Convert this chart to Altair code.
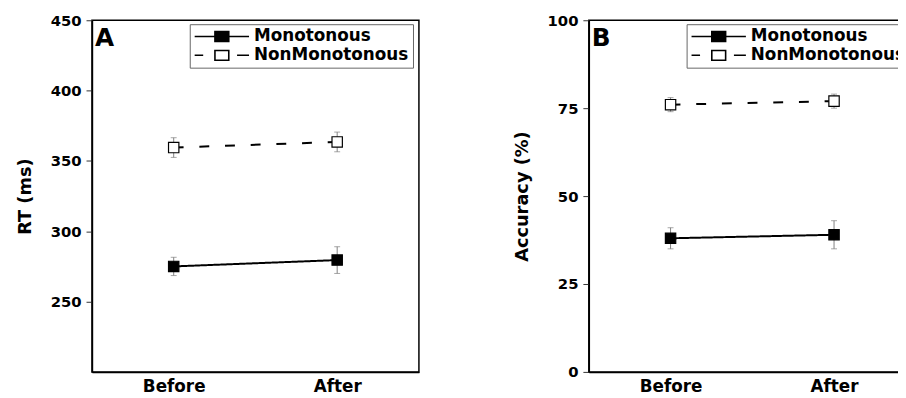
import altair as alt
import pandas as pd

conditions = ["Before", "After"]
series = ["Monotonous", "NonMonotonous"]
dash_kind = ["solid", "dashed"]
fill_colors = ["black", "white"]

rt_mono = [275, 279.5]
rt_mono_err = [6.5, 9.5]
rt_non = [359.5, 363.5]
rt_non_err = [7, 7]

acc_mono = [38, 39]
acc_mono_err = [3, 4]
acc_non = [76, 77]
acc_non_err = [2, 2]

FONT = "DejaVu Sans"

# legend glyphs (symbol scale: 1 unit = 7 px), line with square
PATH_MONO = "M-3.93,0H3.93M-1,-0.71H1V0.71H-1Z"
PATH_NON = "M-3.93,0H-2.7M2.2,0H3.93M-1,-0.71H1V0.71H-1Z"


def make_df(mono, mono_err, non, non_err):
    rows = []
    for i, (vals, errs) in enumerate([(mono, mono_err), (non, non_err)]):
        for c, v, e in zip(conditions, vals, errs):
            rows.append({"cond": c, "series": series[i], "dash": dash_kind[i],
                         "fillc": fill_colors[i], "val": v,
                         "lo": v - e, "hi": v + e})
    return pd.DataFrame(rows)


def panel(df, domain, ticks, ytitle, letter):
    x = alt.X("cond:N", sort=conditions, title=None,
              scale=alt.Scale(type="point", padding=0.5),
              axis=alt.Axis(ticks=False, labelAngle=0, labelPadding=7,
                            labelFontSize=17, labelFont=FONT,
                            labelFontWeight="bold", labelColor="black",
                            domainColor="black", domainWidth=1.5))
    y = alt.Y("val:Q", title=ytitle,
              scale=alt.Scale(domain=domain, nice=False, zero=False),
              axis=alt.Axis(values=ticks, grid=False, tickSize=6,
                            tickColor="#333333", tickWidth=1,
                            labelFontSize=15, labelFont=FONT,
                            labelFontWeight="bold", labelColor="black",
                            labelPadding=5, domainColor="black",
                            domainWidth=1.5, titleFont=FONT,
                            titleFontSize=18, titleFontWeight="bold",
                            titleColor="black", titlePadding=16))
    base = alt.Chart(df)
    err = base.mark_rule(color="#808080", strokeWidth=1).encode(
        x=x, y=alt.Y("lo:Q"), y2="hi:Q")
    cap_lo = base.mark_tick(color="#808080", thickness=1, size=6).encode(
        x=x, y=alt.Y("lo:Q"))
    cap_hi = base.mark_tick(color="#808080", thickness=1, size=6).encode(
        x=x, y=alt.Y("hi:Q"))
    line = base.mark_line(color="black", strokeWidth=2).encode(
        x=x, y=y,
        strokeDash=alt.StrokeDash("dash:N",
                                  scale=alt.Scale(domain=dash_kind,
                                                  range=[[1, 0], [10, 16]]),
                                  legend=None),
        detail="series:N")
    pts = base.mark_point(shape="square", size=110, filled=True,
                          stroke="black", strokeWidth=1.2, opacity=1).encode(
        x=x, y=y, fill=alt.Fill("fillc:N", scale=None))
    leg = base.mark_point(filled=True, opacity=0).encode(
        x=x, y=y,
        fill=alt.Fill("series:N",
                      scale=alt.Scale(domain=series, range=fill_colors),
                      legend=alt.Legend(title=None, orient="none",
                                        legendX=99, legendY=4,
                                        strokeColor="#666666", padding=4,
                                        fillColor="white",
                                        labelFont=FONT, labelFontSize=17,
                                        labelFontWeight="bold",
                                        labelColor="black",
                                        symbolSize=196, symbolOffset=20,
                                        labelOffset=24,
                                        symbolStrokeColor="black",
                                        symbolStrokeWidth=1.6,
                                        symbolOpacity=1, rowPadding=1)),
        shape=alt.Shape("series:N",
                        scale=alt.Scale(domain=series,
                                        range=[PATH_MONO, PATH_NON])))
    lab = alt.Chart(pd.DataFrame({"t": [letter]})).mark_text(
        font=FONT, fontSize=25, fontWeight="bold", align="left",
        baseline="alphabetic", color="black").encode(
        x=alt.value(3), y=alt.value(26), text="t:N")
    return alt.layer(err, cap_lo, cap_hi, line, pts, leg, lab).properties(
        width=331, height=356)


dfA = make_df(rt_mono, rt_mono_err, rt_non, rt_non_err)
dfB = make_df(acc_mono, acc_mono_err, acc_non, acc_non_err)

pA = panel(dfA, [200, 450], [250, 300, 350, 400, 450], "RT (ms)", "A")
pB = panel(dfB, [0, 100], [0, 25, 50, 75, 100], "Accuracy (%)", "B")

chart = alt.hconcat(pA, pB, spacing=93).resolve_scale(
    fill="independent", shape="independent", strokeDash="independent"
).properties(
    padding={"left": 7, "top": 2, "right": -19, "bottom": 0}
).configure_view(stroke="black", strokeWidth=1.5)

chart.save("out.html", embed_options={"renderer": "svg", "actions": False})
